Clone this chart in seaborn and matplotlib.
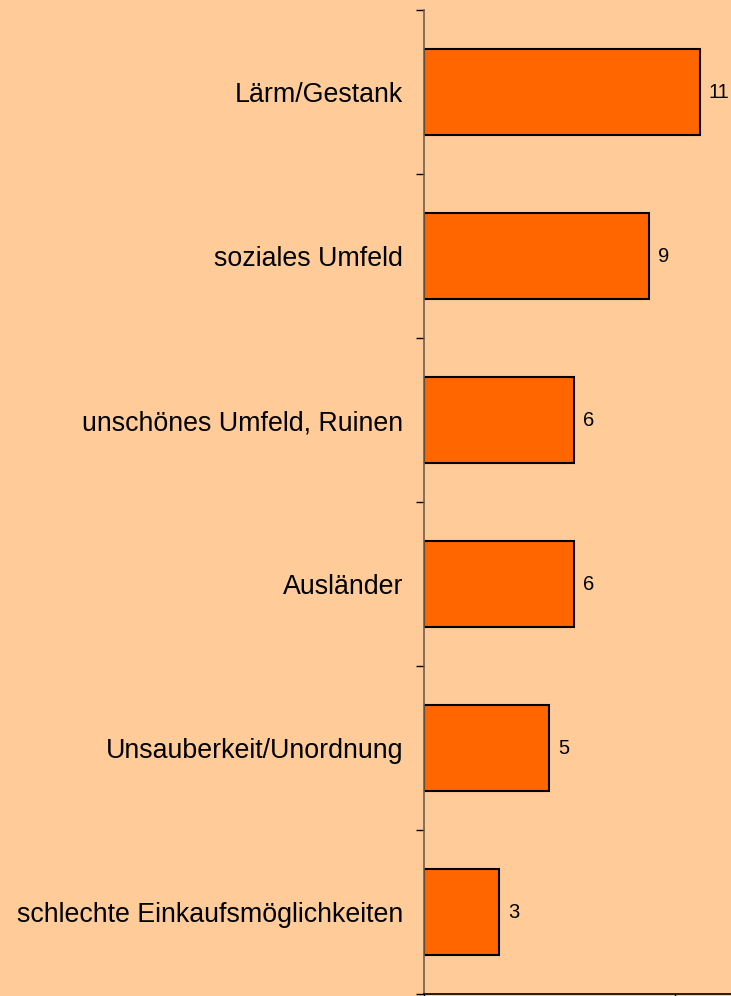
import matplotlib
matplotlib.use("Agg")
from matplotlib import pyplot as plt
import seaborn as sns
import numpy as np

categories = [
    "Lärm/Gestank",
    "soziales Umfeld",
    "unschönes Umfeld, Ruinen",
    "Ausländer",
    "Unsauberkeit/Unordnung",
    "schlechte Einkaufsmöglichkeiten",
]
values = [11, 9, 6, 6, 5, 3]
x_ticks = [0, 10, 20]

bg = "#FFCC99"
bar_color = "#FF6600"

sns.set_theme(style="ticks")
plt.rcParams["font.family"] = ["Liberation Sans", "DejaVu Sans"]
plt.rcParams["text.color"] = "black"
plt.rcParams["ytick.labelcolor"] = "black"

fig = plt.figure(figsize=(7.31, 9.96), dpi=100, facecolor=bg)
# plot area runs past the right edge of the figure, as in the original
ax = fig.add_axes([424 / 731, 2 / 996, 501 / 731, 984 / 996])
ax.set_facecolor(bg)

sns.barplot(x=values, y=categories, orient="h", color=bar_color,
            edgecolor="black", linewidth=1.5, width=0.52, saturation=1, ax=ax)

ax.bar_label(ax.containers[0], labels=[f"{v:d}" for v in values],
             padding=6.5, fontsize=14.5, color="black")

ax.set_xlim(0, 20)
ax.set_ylim(len(categories) - 0.5, -0.5)
ax.set_xticks(x_ticks)
ax.set_xticklabels([])
ax.set_xlabel("")
ax.set_ylabel("")

ax.set_yticks(np.arange(len(categories) + 1) - 0.5, minor=True)
ax.tick_params(axis="y", which="major", length=0, pad=15, labelsize=19.3,
               labelcolor="black")
ax.tick_params(axis="y", which="minor", length=6, width=1, color="black", direction="out")
ax.tick_params(axis="x", which="major", length=6, width=1, color="black", direction="out")

for side in ["top", "right"]:
    ax.spines[side].set_visible(False)
ax.spines["left"].set_color("#6e5e50")
ax.spines["left"].set_linewidth(1.2)
ax.spines["bottom"].set_color("black")
ax.spines["bottom"].set_linewidth(1.2)

plt.savefig("out.png", dpi=100, facecolor=bg)
